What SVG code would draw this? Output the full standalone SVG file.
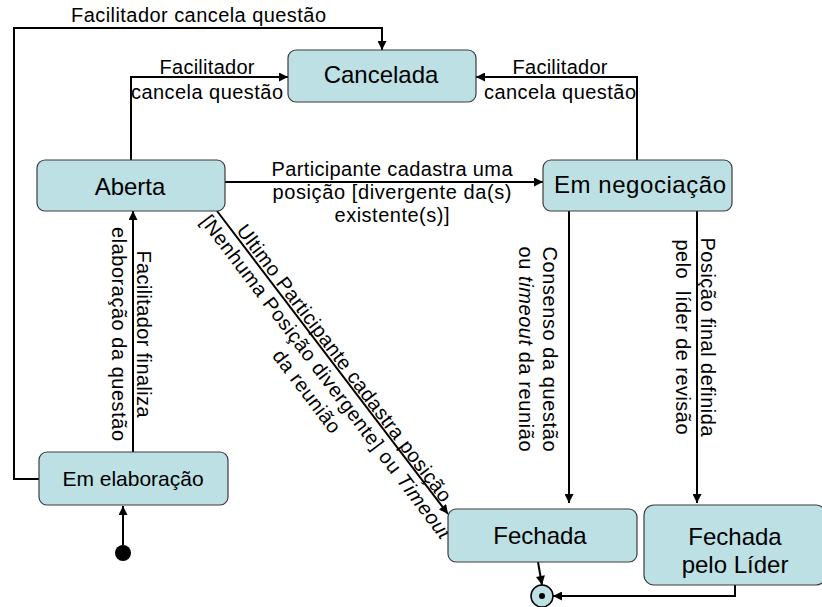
<svg xmlns="http://www.w3.org/2000/svg" width="822" height="607" viewBox="0 0 822 607">
<style>
.node{fill:#bce0e4;stroke:#3c3c3c;stroke-width:1.2}
.nt{font-family:"Liberation Sans",Arial,sans-serif;font-size:24px;fill:#000;text-anchor:middle}
.lb{font-family:"Liberation Sans",Arial,sans-serif;font-size:20px;fill:#000;text-anchor:middle}
.lbs{font-family:"Liberation Sans",Arial,sans-serif;font-size:20px;fill:#000}
.c{fill:none;stroke:#000;stroke-width:2;marker-end:url(#ah)}
</style>
<defs>
<marker id="ah" viewBox="0 0 10 10" refX="10" refY="5" markerWidth="10" markerHeight="9" markerUnits="userSpaceOnUse" orient="auto">
<path d="M0,0 L10,5 L0,10 z" fill="#000"/>
</marker>
</defs>
<rect width="822" height="607" fill="#fff"/>

<g id="connectors">
<path class="c" d="M39,479 H14 V28 H382 V50"/>
<path class="c" d="M131,160 V77 H288"/>
<path class="c" d="M637,160 V77 H476"/>
<path class="c" d="M225,182 H543"/>
<path class="c" d="M133,452 V211"/>
<path class="c" d="M217,211 L448,514"/>
<path class="c" d="M569,211 V503"/>
<path class="c" d="M697,211 V503"/>
<path class="c" d="M538,562 L542,585"/>
<path class="c" d="M735,585 V596 H553"/>
<path class="c" d="M123,545 V506"/>
</g>

<g id="labels">
<text class="lbs" x="71" y="22" textLength="255">Facilitador cancela questão</text>
<text class="lb" x="207" y="74" textLength="95">Facilitador</text>
<text class="lb" x="207" y="99" textLength="152">cancela questão</text>
<text class="lb" x="560" y="74" textLength="95">Facilitador</text>
<text class="lb" x="560" y="99" textLength="152">cancela questão</text>
<text class="lb" x="392" y="176" textLength="241">Participante cadastra uma</text>
<text class="lb" x="392" y="199" textLength="239">posição [divergente da(s)</text>
<text class="lb" x="392" y="222" textLength="115">existente(s)]</text>
<g transform="translate(137,334) rotate(90)">
<text class="lb" x="0" y="0" textLength="167">Facilitador finaliza</text>
<text class="lb" x="0" y="25" textLength="214">elaboração da questão</text>
</g>
<g transform="translate(543,349) rotate(90)">
<text class="lb" x="0" y="0" textLength="205">Consenso da questão</text>
<text class="lb" x="0" y="24" textLength="205">ou <tspan font-style="italic">timeout</tspan> da reunião</text>
</g>
<g transform="translate(701,337) rotate(90)">
<text class="lb" x="0" y="0" textLength="199">Posição final definida</text>
<text class="lb" x="0" y="25" textLength="195" style="white-space:pre">pelo  líder de revisão</text>
</g>
<g transform="translate(217,211) rotate(52.9)">
<text class="lb" x="198" y="-3" textLength="342">Ultimo Participante cadastra posição</text>
<text class="lb" x="198" y="20" textLength="400">[Nenhuma Posição divergente] ou <tspan font-style="italic">Timeout</tspan></text>
<text class="lb" x="198" y="44" textLength="99">da reunião</text>
</g>
</g>

<g id="cancelada">
<rect class="node" x="288" y="50" width="188" height="52" rx="8"/>
<text class="nt" x="381" y="83">Cancelada</text>
</g>
<g id="aberta">
<rect class="node" x="37" y="160" width="188" height="51" rx="8"/>
<text class="nt" x="130" y="195">Aberta</text>
</g>
<g id="em-negociacao">
<rect class="node" x="543" y="160" width="189" height="51" rx="8"/>
<text class="nt" x="640" y="193" textLength="172">Em negociação</text>
</g>
<g id="em-elaboracao">
<rect class="node" x="39" y="452" width="189" height="53" rx="8"/>
<text class="nt" x="133" y="486" style="font-size:21px">Em elaboração</text>
</g>
<g id="fechada">
<rect class="node" x="448" y="509" width="189" height="53" rx="8"/>
<text class="nt" x="540" y="544">Fechada</text>
</g>
<g id="fechada-lider">
<rect class="node" x="644" y="505" width="182" height="80" rx="10"/>
<text class="nt" x="735" y="545">Fechada</text>
<text class="nt" x="735" y="573">pelo Líder</text>
</g>
<g id="inicio">
<circle cx="123" cy="553" r="8" fill="#000"/>
</g>
<g id="fim">
<circle cx="542" cy="596" r="11" fill="#bce0e4" stroke="#000" stroke-width="1.5"/>
<circle cx="542" cy="596" r="3" fill="#000"/>
</g>
</svg>
